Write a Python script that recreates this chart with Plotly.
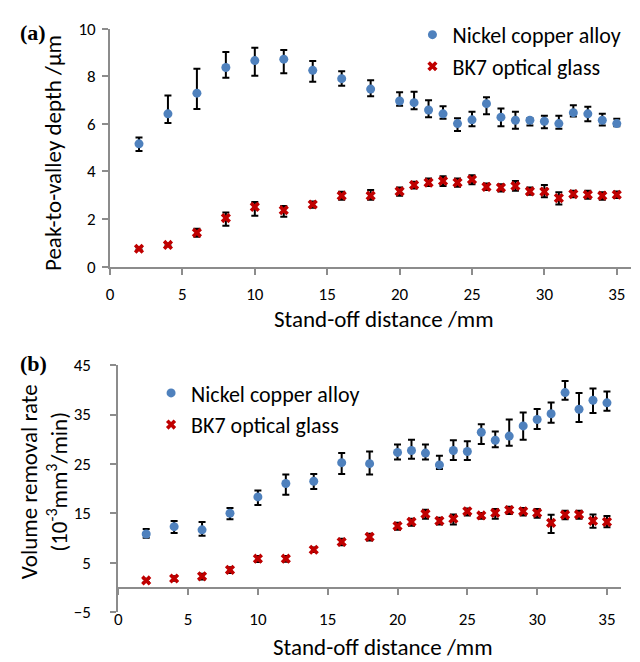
import plotly.graph_objects as go

# Stand-off distances (mm)
distance = [2, 4, 6, 8, 10, 12, 14, 16, 18, 20, 21, 22, 23, 24, 25,
            26, 27, 28, 29, 30, 31, 32, 33, 34, 35]

# (a) Peak-to-valley depth (um): mean, error-bar top, error-bar bottom
ni_depth = [5.16, 6.42, 7.29, 8.37, 8.66, 8.72, 8.25, 7.90, 7.46, 6.96, 6.89, 6.58, 6.42,
            6.01, 6.17, 6.85, 6.28, 6.15, 6.15, 6.11, 6.01, 6.47, 6.42, 6.15, 6.01]
ni_depth_hi = [5.43, 7.19, 8.32, 9.02, 9.20, 9.10, 8.64, 8.21, 7.83, 7.33, 7.35, 6.99, 6.74,
               6.24, 6.51, 7.12, 6.65, 6.51, 6.24, 6.34, 6.34, 6.78, 6.72, 6.42, 6.21]
ni_depth_lo = [4.86, 6.04, 6.62, 7.94, 8.02, 8.13, 7.77, 7.60, 7.16, 6.76, 6.61, 6.28, 6.21,
               5.70, 5.90, 6.40, 5.90, 5.79, 5.93, 5.81, 5.79, 6.31, 6.11, 5.93, 5.90]

bk7_depth = [0.75, 0.91, 1.42, 2.04, 2.51, 2.37, 2.61, 2.98, 2.98, 3.16, 3.43, 3.53, 3.60,
             3.53, 3.66, 3.35, 3.32, 3.39, 3.16, 3.15, 2.88, 3.05, 3.02, 2.98, 3.02]
bk7_depth_hi = [0.80, 0.97, 1.59, 2.27, 2.71, 2.55, 2.74, 3.15, 3.22, 3.32, 3.57, 3.70, 3.80,
                3.70, 3.84, 3.49, 3.46, 3.60, 3.32, 3.43, 3.12, 3.19, 3.19, 3.12, 3.16]
bk7_depth_lo = [0.70, 0.85, 1.25, 1.72, 2.14, 2.10, 2.47, 2.81, 2.81, 2.98, 3.28, 3.39, 3.39,
                3.36, 3.46, 3.22, 3.16, 3.19, 3.02, 2.92, 2.61, 2.92, 2.85, 2.81, 2.88]

# (b) Volume removal rate (1e-3 mm^3/min): mean, error-bar top, error-bar bottom
ni_rate = [10.83, 12.31, 11.67, 15.03, 18.33, 21.05, 21.50, 25.26, 25.06, 27.33, 27.72, 27.20,
           24.81, 27.72, 27.52, 31.41, 29.79, 30.63, 32.70, 34.00, 35.16, 39.43, 36.07, 37.88, 37.36]
ni_rate_hi = [11.86, 13.48, 13.28, 16.07, 19.63, 22.86, 22.99, 27.20, 27.52, 28.95, 29.92, 28.95,
              26.68, 29.79, 29.60, 33.03, 31.54, 34.00, 35.42, 36.13, 37.43, 41.76, 39.37, 40.27, 39.63]
ni_rate_lo = [10.05, 11.02, 10.50, 13.80, 16.72, 18.79, 19.95, 22.99, 22.86, 25.91, 26.04, 25.91,
              23.96, 25.78, 25.78, 29.01, 28.37, 28.69, 29.92, 32.06, 33.35, 38.01, 33.48, 35.29, 35.74]

bk7_rate = [1.44, 1.83, 2.28, 3.58, 5.84, 5.84, 7.65, 9.21, 10.24, 12.44, 13.28, 14.90, 13.48,
            13.93, 15.42, 14.58, 15.10, 15.68, 15.42, 15.10, 13.09, 14.71, 14.77, 13.48, 13.28]
bk7_rate_hi = [1.80, 2.30, 2.80, 4.09, 6.36, 6.40, 8.10, 9.85, 10.89, 13.09, 13.93, 15.74, 14.13,
               14.77, 16.00, 15.10, 15.87, 16.33, 16.07, 15.87, 14.71, 15.55, 15.55, 14.77, 14.45]
bk7_rate_lo = [1.10, 1.40, 1.63, 2.93, 5.19, 5.20, 7.20, 8.56, 9.53, 11.67, 12.51, 13.93, 12.77,
               12.77, 14.58, 13.93, 13.93, 14.90, 14.58, 14.13, 11.02, 13.80, 13.93, 12.12, 12.18]

x_ticks = [0, 5, 10, 15, 20, 25, 30, 35]
depth_ticks = [0, 2, 4, 6, 8, 10]
rate_ticks = [-5, 5, 15, 25, 35, 45]

BLUE = "#4F81BD"
RED = "#C00000"
AXIS = "#8C8C8C"
FONT = "Carlito, Lato, sans-serif"


def err(mean, hi, lo):
    return dict(type="data", symmetric=False,
                array=[h - m for h, m in zip(hi, mean)],
                arrayminus=[m - l for m, l in zip(mean, lo)],
                color="black", thickness=2, width=3.5)


fig = go.Figure()

fig.add_trace(go.Scatter(x=distance, y=ni_depth, mode="markers", name="Nickel copper alloy",
                         marker=dict(symbol="circle", size=9, color=BLUE),
                         error_y=err(ni_depth, ni_depth_hi, ni_depth_lo),
                         xaxis="x", yaxis="y", legend="legend"))
fig.add_trace(go.Scatter(x=distance, y=bk7_depth, mode="markers", name="BK7 optical glass",
                         marker=dict(symbol="x", size=9, color=RED),
                         error_y=err(bk7_depth, bk7_depth_hi, bk7_depth_lo),
                         xaxis="x", yaxis="y", legend="legend"))
# the alloy series sits on the overlaid x-axis that crosses at zero rate
fig.add_trace(go.Scatter(x=distance, y=ni_rate, mode="markers", name="Nickel copper alloy",
                         marker=dict(symbol="circle", size=9, color=BLUE),
                         error_y=err(ni_rate, ni_rate_hi, ni_rate_lo),
                         xaxis="x3", yaxis="y2", legend="legend2"))
fig.add_trace(go.Scatter(x=distance, y=bk7_rate, mode="markers", name="BK7 optical glass",
                         marker=dict(symbol="x", size=9, color=RED),
                         error_y=err(bk7_rate, bk7_rate_hi, bk7_rate_lo),
                         xaxis="x2", yaxis="y2", legend="legend2"))

axis_common = dict(showline=True, linecolor=AXIS, linewidth=2, ticks="outside",
                   tickcolor=AXIS, tickwidth=2, ticklen=6, showgrid=False, zeroline=False,
                   tickfont=dict(family=FONT, size=17, color="black"))

# panel (a) domains
xa_dom = [106.7 / 640, 631.2 / 640]
ya_dom = [1 - 265 / 662, 1 - 19.3 / 662]
# panel (b) domains
xb_dom = [115 / 640, 620.8 / 640]
yb_dom = [1 - 622 / 662, 1 - 366.7 / 662]
zero_pos = yb_dom[0] + (0 - (-5)) / 50 * (yb_dom[1] - yb_dom[0])

fig.update_layout(
    width=640, height=662,
    margin=dict(l=0, r=0, t=0, b=0),
    paper_bgcolor="white", plot_bgcolor="white",
    font=dict(family=FONT, color="black"),
    xaxis=dict(axis_common, domain=xa_dom, range=[0, 36], tickvals=x_ticks, anchor="y",
               ticklabelstandoff=5),
    yaxis=dict(axis_common, domain=ya_dom, range=[0, 10], tickvals=depth_ticks, anchor="x",
               ticklabelstandoff=3),
    xaxis2=dict(axis_common, domain=xb_dom, range=[0, 36], tickvals=x_ticks, anchor="y2",
                showline=False, ticks="", ticklabelstandoff=-5),
    xaxis3=dict(axis_common, overlaying="x2", anchor="free", position=zero_pos,
                range=[0, 36], tickvals=x_ticks, showticklabels=False),
    yaxis2=dict(axis_common, domain=yb_dom, range=[-5, 45], tickvals=rate_ticks, anchor="x2",
                ticklabelstandoff=16),
    legend=dict(x=411 / 640, y=1 - 4 / 662, xanchor="left", yanchor="top",
                font=dict(family=FONT, size=22), bgcolor="rgba(0,0,0,0)",
                tracegroupgap=0, itemwidth=30),
    legend2=dict(x=148 / 640, y=1 - 374 / 662, xanchor="left", yanchor="top",
                 font=dict(family=FONT, size=22), bgcolor="rgba(0,0,0,0)",
                 tracegroupgap=0, itemwidth=30),
    showlegend=True,
)

title_font = dict(family=FONT, size=23, color="black")
label_font = dict(family="Liberation Serif, serif", size=22, color="black")

annotations = [
    dict(text="<b>(a)</b>", x=14 / 640, y=1 - 23 / 662, xanchor="left", yanchor="middle",
         font=label_font),
    dict(text="<b>(b)</b>", x=14 / 640, y=1 - 365 / 662, xanchor="left", yanchor="middle",
         font=label_font),
    dict(text="Peak-to-valley depth /μm", x=50 / 640, y=1 - 148 / 662, textangle=-90,
         xanchor="center", yanchor="middle", font=title_font),
    dict(text="Volume removal rate<br>(10<sup>-3</sup>mm<sup>3</sup>/min)", x=40 / 640,
         y=1 - 487 / 662, textangle=-90, xanchor="center", yanchor="middle", font=title_font),
    dict(text="Stand-off distance /mm", x=382 / 640, y=1 - 319 / 662,
         xanchor="center", yanchor="middle", font=title_font),
    dict(text="Stand-off distance /mm", x=381 / 640, y=-12 / 662,
         xanchor="center", yanchor="bottom", font=title_font),
]
for a in annotations:
    a.update(xref="paper", yref="paper", showarrow=False)
fig.update_layout(annotations=annotations)

fig.write_html("out.html")
